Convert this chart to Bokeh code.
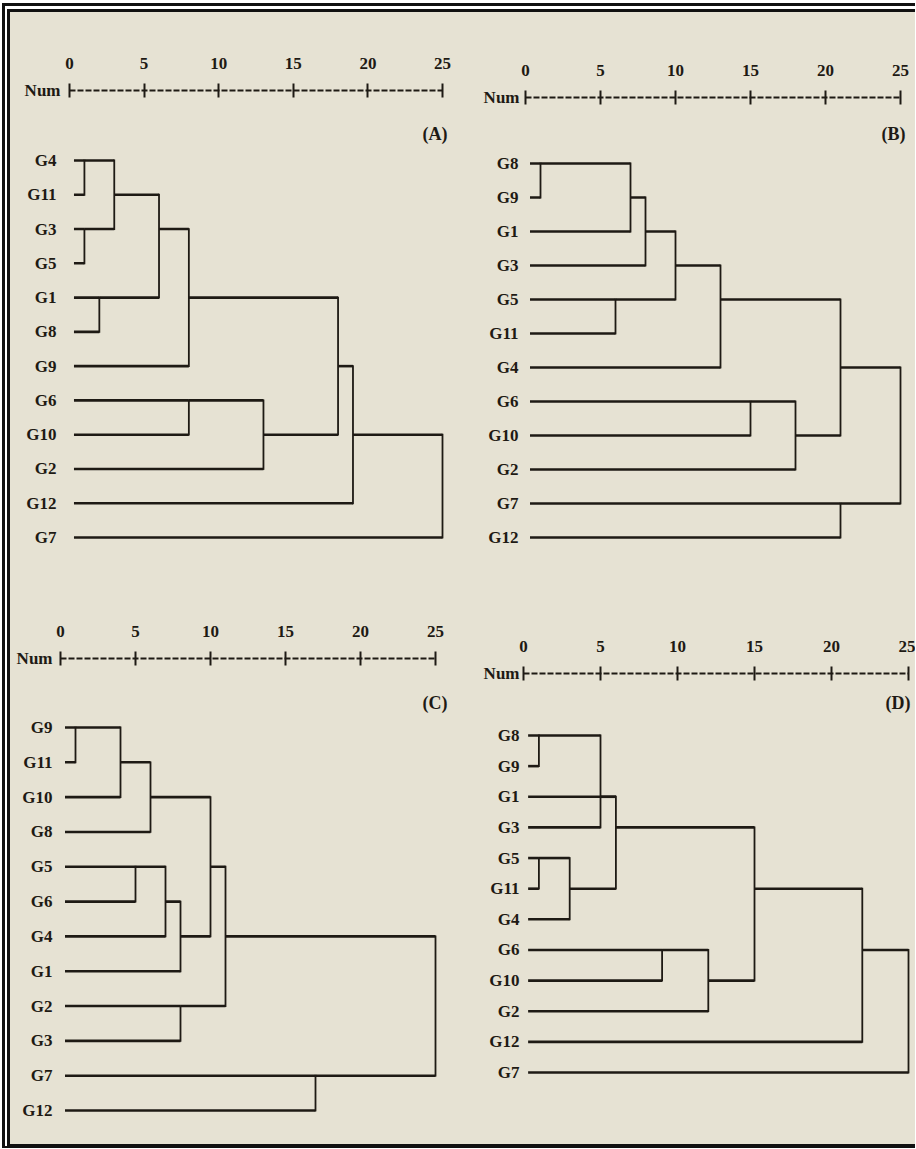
from bokeh.plotting import figure
from bokeh.models import Range1d, LinearAxis, FixedTicker, Label, ColumnDataSource
from bokeh.layouts import row, column
from bokeh.core.properties import value
from bokeh.embed import file_html
from bokeh.resources import INLINE

# ---------------- data ----------------
TICKS = [0, 5, 10, 15, 20, 25]
AXIS_NAME = "Num"

A_LEAVES = ["G4", "G11", "G3", "G5", "G1", "G8", "G9", "G6", "G10", "G2", "G12", "G7"]
A_MERGES = [
    ("a1", ["G4", "G11"], 1, 0),
    ("a2", ["G3", "G5"], 1, 2),
    ("a3", ["G1", "G8"], 2, 4),
    ("a4", ["a1", "a2"], 3, 1),
    ("a5", ["a4", "a3"], 6, 2),
    ("a6", ["a5", "G9"], 8, 4),
    ("a7", ["G6", "G10"], 8, 7),
    ("a8", ["a7", "G2"], 13, 8),
    ("a9", ["a6", "a8"], 18, 6),
    ("a10", ["a9", "G12"], 19, 8),
    ("a11", ["a10", "G7"], 25, 9),
]

B_LEAVES = ["G8", "G9", "G1", "G3", "G5", "G11", "G4", "G6", "G10", "G2", "G7", "G12"]
B_MERGES = [
    ("b1", ["G8", "G9"], 1, 0),
    ("b2", ["b1", "G1"], 7, 1),
    ("b3", ["b2", "G3"], 8, 2),
    ("b4", ["G5", "G11"], 6, 4),
    ("b5", ["b3", "b4"], 10, 3),
    ("b6", ["b5", "G4"], 13, 4),
    ("b7", ["G6", "G10"], 15, 7),
    ("b8", ["b7", "G2"], 18, 8),
    ("b9", ["b6", "b8"], 21, 6),
    ("b10", ["G7", "G12"], 21, 10),
    ("b11", ["b9", "b10"], 25, 8),
]

C_LEAVES = ["G9", "G11", "G10", "G8", "G5", "G6", "G4", "G1", "G2", "G3", "G7", "G12"]
C_MERGES = [
    ("c1", ["G9", "G11"], 1, 0),
    ("c2", ["c1", "G10"], 4, 1),
    ("c3", ["c2", "G8"], 6, 2),
    ("c4", ["G5", "G6"], 5, 4),
    ("c5", ["c4", "G4"], 7, 5),
    ("c6", ["c5", "G1"], 8, 6),
    ("c7", ["G2", "G3"], 8, 8),
    ("c8", ["c3", "c6"], 10, 4),
    ("c9", ["c8", "c7"], 11, 6),
    ("c10", ["G7", "G12"], 17, 10),
    ("c11", ["c9", "c10"], 25, 8),
]

D_LEAVES = ["G8", "G9", "G1", "G3", "G5", "G11", "G4", "G6", "G10", "G2", "G12", "G7"]
D_MERGES = [
    ("d1", ["G8", "G9"], 1, 0),
    ("d2", ["d1", "G3"], 5, 2),
    ("d3", ["G5", "G11"], 1, 4),
    ("d4", ["d3", "G4"], 3, 5),
    ("d5", ["d2", "G1", "d4"], 6, 3),
    ("d6", ["G6", "G10"], 9, 7),
    ("d7", ["d6", "G2"], 12, 8),
    ("d8", ["d5", "d7"], 15, 5),
    ("d9", ["d8", "G12"], 22, 7),
    ("d10", ["d9", "G7"], 25, 9),
]

# ---------------- style ----------------
BG = "#E6E2D3"
INK = "#1E1A14"
FONT = "Liberation Serif"
FSIZE = "17px"
LEAF_START = 0.3


def dendro_segments(leaves, merges):
    pos = {n: (LEAF_START, i) for i, n in enumerate(leaves)}
    h = dict(x0=[], x1=[], y=[])
    v = dict(x=[], y0=[], y1=[])
    for name, kids, height, out_row in merges:
        rows = []
        for k in kids:
            x, y = pos[k]
            h["x0"].append(x)
            h["x1"].append(height)
            h["y"].append(y)
            rows.append(y)
        v["x"].append(height)
        v["y0"].append(min(rows))
        v["y1"].append(max(rows))
        pos[name] = (height, out_row)
    return ColumnDataSource(h), ColumnDataSource(v)


def make_panel(tag, leaves, merges, W, H, px0, px25, py_axis, py_row0, py_rowN,
               label_gap, num_gap, tag_dx, tag_dy):
    n = len(leaves)
    sx = (px25 - px0) / (TICKS[-1] - TICKS[0])
    x_start = TICKS[0] - px0 / sx
    x_end = TICKS[-1] + (W - px25) / sx
    sy = (py_rowN - py_row0) / (n - 1)
    y_top = -py_row0 / sy
    y_bot = (n - 1) + (H - py_rowN) / sy
    y_axis = -(py_row0 - py_axis) / sy

    p = figure(width=W, height=H,
               x_range=Range1d(x_start, x_end), y_range=Range1d(y_bot, y_top),
               x_axis_type=None, y_axis_type=None,
               toolbar_location=None, output_backend="svg",
               min_border_left=0, min_border_right=0,
               min_border_top=0, min_border_bottom=0,
               background_fill_color=BG, border_fill_color=BG,
               outline_line_color=None)

    ax = LinearAxis(ticker=FixedTicker(ticks=TICKS), bounds=(TICKS[0], TICKS[-1]),
                    fixed_location=y_axis,
                    axis_line_color=INK, axis_line_width=2, axis_line_dash="6 2",
                    major_tick_in=7, major_tick_out=7,
                    major_tick_line_color=INK, major_tick_line_width=2,
                    minor_tick_line_color=None,
                    major_label_text_font=FONT, major_label_text_font_style="bold",
                    major_label_text_font_size=FSIZE, major_label_text_color=INK,
                    major_label_standoff=15)
    p.add_layout(ax, "above")

    lsrc = ColumnDataSource(dict(y=list(range(n)), name=leaves))
    p.text(x=TICKS[0], y="y", text="name", source=lsrc, x_offset=label_gap,
           text_align="right", text_baseline="middle",
           text_font=value(FONT), text_font_style="bold",
           text_font_size=FSIZE, text_color=INK)

    hsrc, vsrc = dendro_segments(leaves, merges)
    p.segment(x0="x0", y0="y", x1="x1", y1="y", source=hsrc,
              line_color=INK, line_width=2.6)
    p.segment(x0="x", y0="y0", x1="x", y1="y1", source=vsrc,
              line_color=INK, line_width=1.8, line_cap="square")

    p.add_layout(Label(x=TICKS[0], y=y_axis, x_offset=num_gap, text=AXIS_NAME,
                       text_align="right", text_baseline="middle",
                       text_font=FONT, text_font_style="bold",
                       text_font_size=FSIZE, text_color=INK))
    p.add_layout(Label(x=TICKS[-1], y=-tag_dy / sy, x_offset=tag_dx, text=tag,
                       text_align="right", text_baseline="middle",
                       text_font=FONT, text_font_style="bold",
                       text_font_size="18px", text_color=INK))
    return p


W1, W2 = 446, 459
H1, H2 = 568, 564

pA = make_panel("(A)", A_LEAVES, A_MERGES, W1, H1, 59, 432, 78, 148, 525, -13, -9, 5, 27)
pB = make_panel("(B)", B_LEAVES, B_MERGES, W2, H1, 69, 444, 85, 151, 525, -7, -6, 5, 30)
pC = make_panel("(C)", C_LEAVES, C_MERGES, W1, H2, 50, 425, 78, 147, 530, -8, -8, 12, 25)
pD = make_panel("(D)", D_LEAVES, D_MERGES, W2, H2, 67, 452, 93, 155, 492, -4, -4, 2, 33)

layout = column(row(pA, pB, styles={"background-color": BG}),
                row(pC, pD, styles={"background-color": BG}),
                styles={"margin-top": "3px", "margin-left": "2px",
                        "background-color": BG,
                        "background-clip": "padding-box",
                        "border-top": "9px double #111",
                        "border-left": "8px double #111",
                        "border-bottom": "4px solid #111"})

open("out.html", "w").write(file_html(layout, INLINE))
